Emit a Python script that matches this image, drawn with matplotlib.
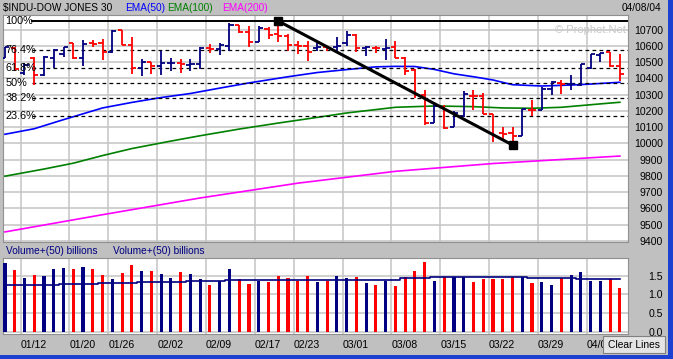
import matplotlib
matplotlib.use('Agg')
import matplotlib.pyplot as plt
from matplotlib.patches import Rectangle
from matplotlib.transforms import blended_transform_factory, Bbox
import numpy as np

plt.rcParams['font.family'] = ['Liberation Sans', 'DejaVu Sans']

# trading days shown on the chart
dates = ['01/08', '01/09', '01/12', '01/13', '01/14', '01/15', '01/16', '01/20', '01/21', '01/22',
         '01/23', '01/26', '01/27', '01/28', '01/29', '01/30', '02/02', '02/03', '02/04', '02/05',
         '02/06', '02/09', '02/10', '02/11', '02/12', '02/13', '02/17', '02/18', '02/19', '02/20',
         '02/23', '02/24', '02/25', '02/26', '02/27', '03/01', '03/02', '03/03', '03/04', '03/05',
         '03/08', '03/09', '03/10', '03/11', '03/12', '03/15', '03/16', '03/17', '03/18', '03/19',
         '03/22', '03/23', '03/24', '03/25', '03/26', '03/29', '03/30', '03/31', '04/01', '04/02',
         '04/05', '04/06', '04/07', '04/08']
week_labels = ['01/12', '01/20', '01/26', '02/02', '02/09', '02/17', '02/23',
               '03/01', '03/08', '03/15', '03/22', '03/29', '04/05']

opens = [10525, 10587, 10433, 10525, 10421, 10525, 10550, 10615, 10523, 10620,
         10616, 10560, 10698, 10605, 10464, 10503, 10478, 10492, 10494, 10484,
         10488, 10585, 10581, 10597, 10728, 10683, 10622, 10704, 10670, 10663,
         10607, 10601, 10587, 10591, 10591, 10618, 10669, 10587, 10587, 10581,
         10595, 10523, 10451, 10298, 10127, 10226, 10099, 10168, 10293, 10291,
         10181, 10064, 10062, 10044, 10208, 10207, 10335, 10373, 10365, 10359,
         10464, 10546, 10560, 10474]
highs = [10593, 10593, 10495, 10531, 10539, 10581, 10595, 10616, 10636, 10636,
         10642, 10698, 10698, 10653, 10519, 10503, 10570, 10525, 10519, 10519,
         10591, 10611, 10616, 10739, 10728, 10724, 10724, 10714, 10753, 10673,
         10632, 10628, 10616, 10601, 10653, 10693, 10673, 10601, 10601, 10642,
         10628, 10530, 10456, 10328, 10253, 10238, 10201, 10325, 10327, 10313,
         10181, 10099, 10101, 10213, 10265, 10347, 10386, 10390, 10419, 10488,
         10550, 10554, 10560, 10550]
lows = [10525, 10445, 10421, 10359, 10415, 10464, 10533, 10519, 10478, 10595,
        10515, 10554, 10605, 10427, 10413, 10427, 10423, 10443, 10435, 10443,
        10458, 10554, 10546, 10567, 10677, 10595, 10622, 10642, 10622, 10570,
        10550, 10509, 10567, 10567, 10570, 10601, 10560, 10539, 10554, 10513,
        10523, 10421, 10277, 10113, 10123, 10088, 10099, 10162, 10208, 10181,
        10008, 10026, 9990, 10044, 10170, 10203, 10296, 10306, 10330, 10355,
        10458, 10499, 10468, 10386]
closes = [10593, 10458, 10482, 10421, 10531, 10575, 10590, 10523, 10611, 10612,
          10560, 10693, 10605, 10464, 10503, 10478, 10493, 10496, 10488, 10490,
          10587, 10580, 10605, 10728, 10683, 10622, 10708, 10669, 10662, 10607,
          10601, 10560, 10595, 10585, 10599, 10669, 10587, 10591, 10585, 10585,
          10523, 10447, 10298, 10127, 10232, 10093, 10187, 10304, 10291, 10181,
          10048, 10060, 10045, 10211, 10203, 10336, 10378, 10366, 10368, 10488,
          10550, 10554, 10478, 10427]

# volume, billions
volume = [1.84, 1.64, 1.43, 1.51, 1.49, 1.67, 1.70, 1.67, 1.73, 1.67,
          1.51, 1.40, 1.57, 1.78, 1.62, 1.62, 1.54, 1.45, 1.59, 1.54,
          1.42, 1.24, 1.35, 1.67, 1.42, 1.28, 1.35, 1.32, 1.48, 1.43,
          1.35, 1.49, 1.32, 1.35, 1.48, 1.43, 1.46, 1.30, 1.24, 1.35,
          1.22, 1.46, 1.62, 1.87, 1.35, 1.46, 1.46, 1.46, 1.32, 1.40,
          1.40, 1.40, 1.46, 1.46, 1.30, 1.32, 1.26, 1.44, 1.51, 1.59,
          1.37, 1.37, 1.40, 1.16]
vol_avg = [1.26] * 6 + [1.28] * 4 + [1.31] * 4 + [1.34] * 5 + [1.37] * 4 + \
          [1.39] * 18 + [1.44] * 3 + [1.47] * 10 + [1.43] * 5 + [1.42] * 5

# moving averages (bar index, value)
ema50_idx = [0, 3, 6, 10, 13, 16, 19, 22, 25, 29, 32, 35, 38, 40, 42, 44, 46, 48, 50, 52, 55, 58, 60, 63]
ema50_val = [10056, 10090, 10146, 10218, 10252, 10282, 10307, 10340, 10372, 10410, 10436, 10454,
             10471, 10474, 10473, 10455, 10428, 10410, 10390, 10361, 10353, 10359, 10365, 10376]
ema100_idx = [0, 4, 7, 10, 13, 17, 20, 24, 28, 32, 35, 40, 44, 48, 51, 54, 57, 61, 63]
ema100_val = [9798, 9842, 9878, 9925, 9968, 10014, 10047, 10088, 10125, 10160, 10187, 10222,
              10230, 10226, 10218, 10216, 10222, 10243, 10253]
ema200_idx = [0, 10, 20, 30, 40, 50, 63]
ema200_val = [9455, 9561, 9664, 9755, 9828, 9876, 9922]

# retracement swing
swing_high, swing_low = 10753, 9990
swing_idx = [28, 52]
fib_ratios = [1.0, 0.764, 0.618, 0.5, 0.382, 0.236]
fib_labels = ['100%', '76.4%', '61.8%', '50%', '38.2%', '23.6%']

BG = '#C0C0C0'
GRID = '#C4C4C4'
NAVY = '#000080'
RED = '#FF0000'
W, H = 673, 359


def fbox(l, t, r, b):
    return [l / W, 1 - b / H, (r - l) / W, (b - t) / H]


fig = plt.figure(figsize=(W / 100, H / 100), dpi=100, facecolor=BG)
ax = fig.add_axes(fbox(3, 15, 628, 242))
axv = fig.add_axes(fbox(3, 258, 628, 334))

x = np.arange(len(dates))
o, hi, lo, c = map(np.array, (opens, highs, lows, closes))
cols = np.where(c >= o, NAVY, RED)
grid_x = [dates.index(d) - 0.4 for d in week_labels]

for a in (ax, axv):
    a.set_facecolor('white')
    a.set_xlim(-0.2, 63.83)
    a.set_xticks(grid_x)
    a.grid(True, color=GRID, lw=1.1)
    a.set_axisbelow(True)
    for s in a.spines.values():
        s.set_color('#909090')
    a.yaxis.tick_right()
    a.tick_params(axis='y', length=0, pad=25, labelsize=7.6)
    a.tick_params(axis='x', length=0)

# price panel
ax.set_ylim(9393, 10790)
ax.set_yticks(np.arange(9400, 10701, 100))
for lbl in ax.get_yticklabels():
    lbl.set_ha('right')
ax.tick_params(axis='x', labelbottom=False)

ax.vlines(x, lo, hi, colors=cols, lw=1.3, zorder=3)
ax.hlines(o, x - 0.42, x, colors=cols, lw=1.3, zorder=3)
ax.hlines(c, x, x + 0.42, colors=cols, lw=1.3, zorder=3)

ax.plot(ema50_idx, ema50_val, color='#0000FF', lw=1.2, zorder=2)
ax.plot(ema100_idx, ema100_val, color='#008000', lw=1.2, zorder=2)
ax.plot(ema200_idx, ema200_val, color='#FF00FF', lw=1.2, zorder=2)

tr = blended_transform_factory(ax.transAxes, ax.transData)
for r, lab in zip(fib_ratios, fib_labels):
    lvl = swing_low + r * (swing_high - swing_low)
    if r == 1.0:
        ax.axhline(lvl, xmin=0.046, color='black', lw=1.4, zorder=2)
    else:
        ax.axhline(lvl, xmin=0.046, color='black', lw=0.9, ls=(0, (3, 2.6)), zorder=2)
    ax.text(0.004, lvl, lab, transform=tr, va='center', ha='left', fontsize=7.8, zorder=5)

ax.plot(swing_idx, [swing_high, swing_low], color='black', lw=2.2,
        marker='s', ms=6, zorder=4)

ax.text(0.997, 0.935, '\u00a9 Prophet.Net', transform=ax.transAxes, ha='right', va='center',
        fontsize=8, color='#C8C8C8')

# volume panel
axv.set_ylim(-0.053, 1.973)
axv.set_yticks([0, 0.5, 1.0, 1.5])
axv.set_yticklabels(['0.0', '0.5', '1.0', '1.5'])
for lbl in axv.get_yticklabels():
    lbl.set_ha('right')
axv.set_xticklabels(week_labels)
# the last date label runs under the button, cut it at the button edge
clip = Bbox.from_extents(0, 0, 603, H)
for lbl in axv.get_xticklabels():
    lbl.set_ha('left')
    lbl.set_clip_box(clip)
    lbl.set_clip_on(True)
axv.tick_params(axis='x', labelsize=7.6, pad=4)
axv.bar(x, volume, width=0.32, color=cols, zorder=3)
axv.plot(x, vol_avg, drawstyle='steps-mid', color=NAVY, lw=1.2, zorder=4)

# header texts
ty = 1 - 8 / H
fig.text(3 / W, ty, '$INDU-DOW JONES 30', fontsize=7.3, va='center')
fig.text(125 / W, ty, 'EMA(50)', fontsize=7.3, va='center', color='#0000FF')
fig.text(167 / W, ty, 'EMA(100)', fontsize=7.3, va='center', color='#008000')
fig.text(222 / W, ty, 'EMA(200)', fontsize=7.3, va='center', color='#FF00FF')
fig.text(661 / W, ty, '04/08/04', fontsize=7.3, va='center', ha='right')
vy = 1 - 251 / H
fig.text(6 / W, vy, 'Volume+(50) billions', fontsize=7.3, va='center', color=NAVY)
fig.text(113 / W, vy, 'Volume+(50) billions', fontsize=7.3, va='center', color=NAVY)

# clear lines button
fig.add_artist(Rectangle((603 / W, 1 - 353 / H), 62 / W, 17 / H, transform=fig.transFigure,
                         facecolor='#E4E4E4', edgecolor='#808080', lw=0.8))
fig.text(634 / W, 1 - 345 / H, 'Clear Lines', fontsize=7.4, ha='center', va='center')

# window frame
fig.add_artist(Rectangle((668 / W, 0), 5 / W, 1, transform=fig.transFigure,
                         facecolor='#1C40D0', edgecolor='none'))
fig.add_artist(Rectangle((0, 0), 1, 4 / H, transform=fig.transFigure,
                         facecolor='#1C40D0', edgecolor='none'))

fig.savefig('out.png', dpi=100, facecolor=BG)
